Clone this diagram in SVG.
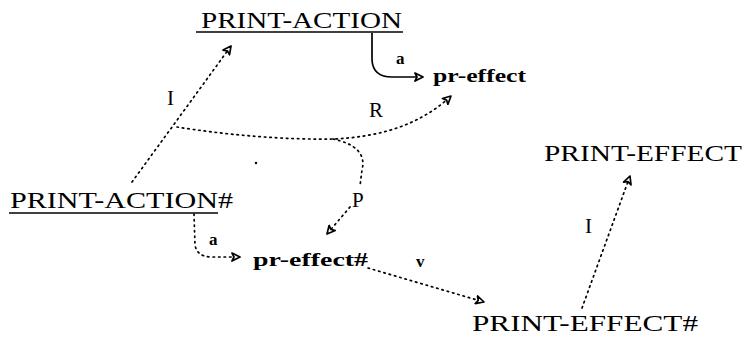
<svg xmlns="http://www.w3.org/2000/svg" width="747" height="345" viewBox="0 0 747 345">
<style>
  .lbl{font-family:"Liberation Serif","DejaVu Serif",serif;fill:#000}
  .big{font-size:23px}
  .mid{font-size:19px;font-weight:bold}
  .edge{font-size:21px}
  .small{font-size:17px;font-weight:bold}
  .dot{fill:none;stroke:#000;stroke-width:1.7;stroke-dasharray:1.5 4;stroke-linecap:round}
  .solid{fill:none;stroke:#000;stroke-width:1.7}
  .ul{stroke:#000;stroke-width:1.6}
</style>
<defs>
  <marker id="ah" viewBox="0 0 10 10" refX="9" refY="5" markerWidth="10" markerHeight="10" markerUnits="userSpaceOnUse" orient="auto">
    <path d="M1,1 L9,5 L1,9 L3,5 Z" fill="#fff" stroke="#000" stroke-width="1.7" stroke-linejoin="round"/>
  </marker>
</defs>
<rect width="747" height="345" fill="#fff"/>
<g id="connectors">
  <path class="solid" d="M372,33 L372,60 Q373,77 392,77 L423,77" marker-end="url(#ah)"/>
  <path class="dot" d="M132,182 L231,46" marker-end="url(#ah)"/>
  <path class="dot" d="M177,127 C220,134 280,140 333,139 C380,137 420,125 451,96" marker-end="url(#ah)"/>
  <path class="dot" d="M333,139 C356,144 366,154 362,170 L360,186"/>
  <path class="dot" d="M350,207 L327,234" marker-end="url(#ah)"/>
  <path class="dot" d="M194,214 L195,245 Q197,257 212,257 L240,257" marker-end="url(#ah)"/>
  <path class="dot" d="M368,268 L484,302" marker-end="url(#ah)"/>
  <path class="dot" d="M582,308 L630,176" marker-end="url(#ah)"/>
  <circle cx="256" cy="163" r="1.2" fill="#000"/>
  <text class="lbl edge" x="167" y="105">I</text>
  <text class="lbl small" x="396" y="64">a</text>
  <text class="lbl edge" x="369" y="117">R</text>
  <text class="lbl edge" x="352" y="207">P</text>
  <text class="lbl small" x="209" y="245">a</text>
  <text class="lbl small" x="416" y="267">v</text>
  <text class="lbl edge" x="585" y="233">I</text>
</g>
<g id="print-action">
  <text class="lbl big" x="201" y="28" textLength="201" lengthAdjust="spacingAndGlyphs">PRINT-ACTION</text>
  <line class="ul" x1="196" y1="32" x2="403" y2="32"/>
</g>
<g id="pr-effect">
  <text class="lbl mid" x="433" y="82" textLength="93" lengthAdjust="spacingAndGlyphs">pr-effect</text>
</g>
<g id="print-action-hash">
  <text class="lbl big" x="10" y="208" textLength="223" lengthAdjust="spacingAndGlyphs">PRINT-ACTION#</text>
  <line class="ul" x1="9" y1="213" x2="218" y2="213"/>
</g>
<g id="pr-effect-hash">
  <text class="lbl mid" x="253" y="266" textLength="115" lengthAdjust="spacingAndGlyphs">pr-effect#</text>
</g>
<g id="print-effect-hash">
  <text class="lbl big" x="472" y="331" textLength="226" lengthAdjust="spacingAndGlyphs">PRINT-EFFECT#</text>
</g>
<g id="print-effect">
  <text class="lbl big" x="544" y="161" textLength="198" lengthAdjust="spacingAndGlyphs">PRINT-EFFECT</text>
</g>
</svg>
